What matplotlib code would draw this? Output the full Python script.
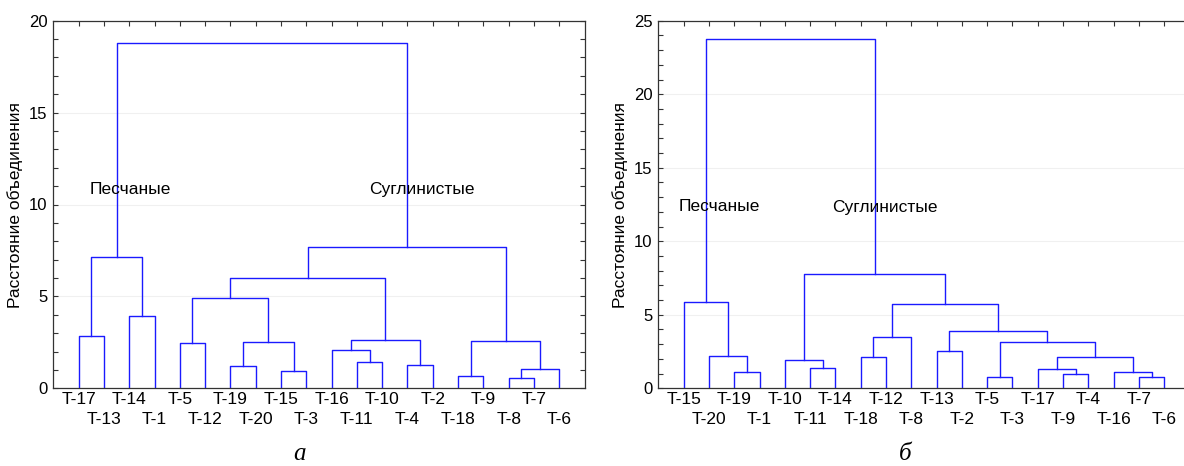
import matplotlib.pyplot as plt
from matplotlib.ticker import MultipleLocator

plt.rcParams['font.family'] = ['Liberation Sans', 'DejaVu Sans']

# panel a: leaf order and joins (child, child, height); ints refer to earlier joins
leaves_a = ['T-17', 'T-13', 'T-14', 'T-1', 'T-5', 'T-12', 'T-19', 'T-20', 'T-15', 'T-3',
            'T-16', 'T-11', 'T-10', 'T-4', 'T-2', 'T-18', 'T-9', 'T-8', 'T-7', 'T-6']
joins_a = [
    ('T-17', 'T-13', 2.87), ('T-14', 'T-1', 3.96), (0, 1, 7.13),
    ('T-5', 'T-12', 2.47), ('T-19', 'T-20', 1.20), ('T-15', 'T-3', 0.93),
    (4, 5, 2.54), (3, 6, 4.90), ('T-11', 'T-10', 1.45), ('T-16', 8, 2.11),
    ('T-4', 'T-2', 1.29), (9, 10, 2.65), (7, 11, 5.98), ('T-18', 'T-9', 0.67),
    ('T-8', 'T-7', 0.54), (14, 'T-6', 1.04), (13, 15, 2.57), (12, 16, 7.71),
    (2, 17, 18.77),
]

# panel b
leaves_b = ['T-15', 'T-20', 'T-19', 'T-1', 'T-10', 'T-11', 'T-14', 'T-18', 'T-12', 'T-8',
            'T-13', 'T-2', 'T-5', 'T-3', 'T-17', 'T-9', 'T-4', 'T-16', 'T-7', 'T-6']
joins_b = [
    ('T-19', 'T-1', 1.14), ('T-20', 0, 2.21), ('T-15', 1, 5.85),
    ('T-11', 'T-14', 1.40), ('T-10', 3, 1.90), ('T-18', 'T-12', 2.16),
    (5, 'T-8', 3.49), ('T-13', 'T-2', 2.52), ('T-5', 'T-3', 0.79),
    ('T-9', 'T-4', 0.95), ('T-17', 9, 1.29), ('T-7', 'T-6', 0.79),
    ('T-16', 11, 1.13), (10, 12, 2.15), (8, 13, 3.18), (7, 14, 3.90),
    (6, 15, 5.71), (4, 16, 7.75), (2, 17, 23.73),
]

ylabel = 'Расстояние объединения'
LINE = '#1a1aff'


def draw_tree(ax, leaves, joins):
    pos = {name: i + 1 for i, name in enumerate(leaves)}
    xs, hs = [], []

    def node(c):
        if isinstance(c, str):
            return pos[c], 0.0
        return xs[c], hs[c]

    for a, b, h in joins:
        xa, ha = node(a)
        xb, hb = node(b)
        ax.plot([xa, xa, xb, xb], [ha, h, h, hb], color=LINE, lw=1.0)
        xs.append((xa + xb) / 2)
        hs.append(h)

    n = len(leaves)
    x = list(range(1, n + 1))
    ax.set_xticks(x[0::2], leaves[0::2])
    ax.set_xticks(x[1::2], leaves[1::2], minor=True)
    ax.set_xlim(0, n + 1)


def style(ax, ymax, right=True):
    ax.set_ylim(0, ymax)
    ax.yaxis.set_major_locator(MultipleLocator(5))
    ax.yaxis.set_minor_locator(MultipleLocator(1))
    ax.tick_params(axis='y', which='both', direction='in', left=True, right=right,
                   length=3.5, width=0.8, labelsize=12, pad=4, color='#333333')
    ax.tick_params(axis='x', which='both', direction='in', top=True, bottom=False,
                   length=3.5, width=0.8, labelsize=12.5, color='#333333')
    ax.tick_params(axis='x', which='major', pad=3)
    ax.tick_params(axis='x', which='minor', pad=17)
    ax.yaxis.grid(True, which='major', color='#f0f0f0', lw=0.8)
    ax.set_axisbelow(True)
    for s in ax.spines.values():
        s.set_color('#333333')
        s.set_linewidth(0.9)
    ax.spines['right'].set_visible(right)
    ax.set_ylabel(ylabel, fontsize=12.5)
    ax.yaxis.set_label_coords(-0.057, 0.5)


fig = plt.figure(figsize=(11.84, 4.66), dpi=100)
W, H = 1184, 466
ax1 = fig.add_axes([53.3 / W, 77.7 / H, 531.3 / W, 367.6 / H])
ax2 = fig.add_axes([658.3 / W, 77.7 / H, 531.3 / W, 367.6 / H])

draw_tree(ax1, leaves_a, joins_a)
style(ax1, 20)
ax1.text(1.42, 10.84, 'Песчаные', fontsize=12.5, va='center', ha='left')
ax1.text(12.49, 10.79, 'Суглинистые', fontsize=12.5, va='center', ha='left')

draw_tree(ax2, leaves_b, joins_b)
style(ax2, 25, right=False)
ax2.text(0.82, 12.35, 'Песчаные', fontsize=12.5, va='center', ha='left')
ax2.text(6.86, 12.29, 'Суглинистые', fontsize=12.5, va='center', ha='left')

fig.text(300 / W, 0.002, 'а', fontsize=18, style='italic',
         family=['Liberation Serif', 'DejaVu Serif'], ha='center', va='bottom')
fig.text(905 / W, 0.002, 'б', fontsize=18, style='italic',
         family=['Liberation Serif', 'DejaVu Serif'], ha='center', va='bottom')

fig.savefig('out.png', dpi=100)
